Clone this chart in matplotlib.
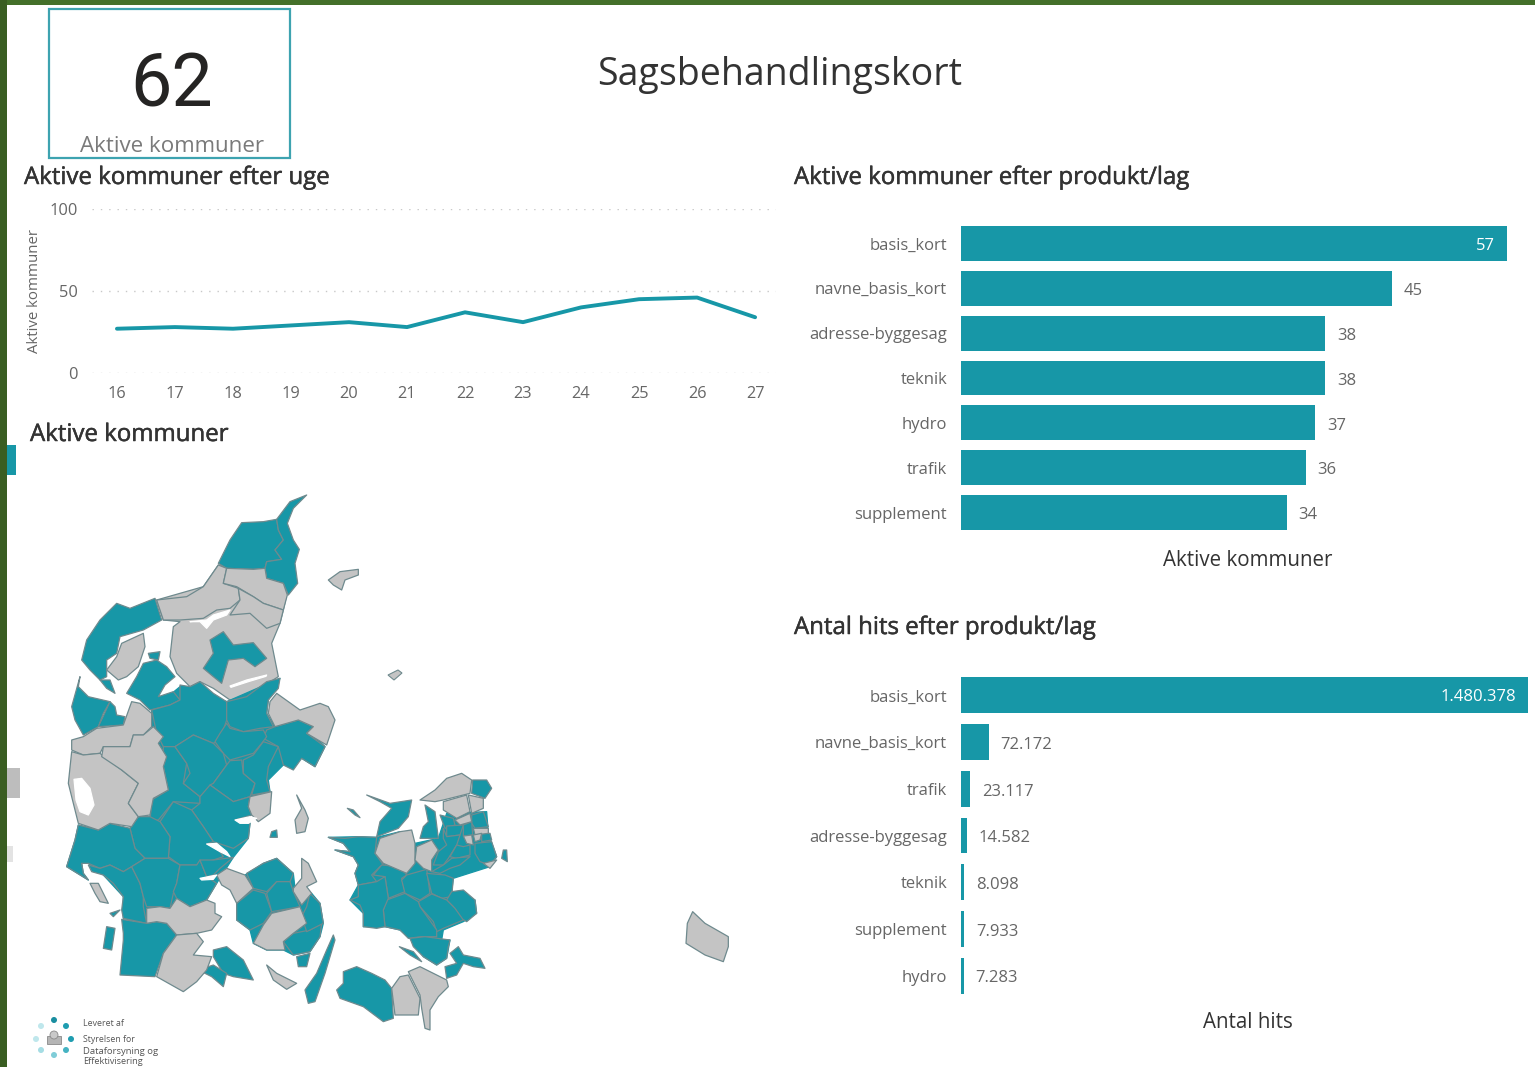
import matplotlib
matplotlib.use('Agg')
import matplotlib.pyplot as plt
import matplotlib.patheffects as pe
from matplotlib.patches import Polygon, Rectangle, Circle

# data
weeks = [16, 17, 18, 19, 20, 21, 22, 23, 24, 25, 26, 27]
active_per_week = [27, 28, 27, 29, 31, 28, 37, 31, 40, 45, 46, 34]

products_active = ['basis_kort', 'navne_basis_kort', 'adresse-byggesag', 'teknik', 'hydro', 'trafik', 'supplement']
active_values = [57, 45, 38, 38, 37, 36, 34]

products_hits = ['basis_kort', 'navne_basis_kort', 'trafik', 'adresse-byggesag', 'teknik', 'supplement', 'hydro']
hits_values = [1480378, 72172, 23117, 14582, 8098, 7933, 7283]

# map outlines, traced by eye. three groups, each in its own crop coordinates (3x)
base_north_gray = [(655,255),(860,345),(850,390),(840,430),(815,490),(835,590),(740,650),(690,660),(640,625),(600,605),(570,620),(530,580),(510,530),(520,440),(540,425),(490,420),(470,360),(610,320)]
base_jutland_teal = [(455,-150),(540,-220),(680,-175),(840,-245),(805,-180),(800,-140),(825,-100),(895,-120),(975,-40),(945,20),(905,-5),(850,15),(805,60),(810,95),(750,110),(750,190),(745,235),(700,292),(650,370),(620,420),(530,415),(510,445),(440,445),(440,490),(370,475),(370,410),(310,345),(265,310),(245,310),(250,340),(265,360),(200,320),(225,240),(235,195),(295,210),(390,205),(450,170),(455,120),(505,90),(490,20),(500,-10),(475,-50),(490,-70),(455,-100)]
base_funen_teal = [(735,345),(790,310),(830,295),(880,340),(885,385),(935,400),(960,430),(970,490),(960,530),(930,575),(880,585),(850,570),(800,570),(760,550),(750,510),(710,480),(710,430),(760,385)]
base_zealand_teal = [(85,262),(175,260),(230,262),(300,245),(345,280),(415,265),(440,190),(560,185),(565,250),(590,320),(570,350),(460,385),(455,425),(525,450),(530,490),(490,515),(430,540),(425,570),(450,570),(440,625),(410,645),(370,620),(330,565),(300,540),(255,530),(190,530),(190,490),(150,450),(175,405),(165,370),(175,345),(160,320),(105,300),(150,305),(130,280)]

water_north = [
    [(570,425),(620,420),(640,405),(690,390),(680,405),(640,420),(620,445),(600,425)],
    [(690,618),(740,600),(800,585),(798,589),(745,605),(693,622)],
]
water_south = [
    [(222,58),(245,55),(270,85),(282,135),(265,165),(240,155),(228,120)],
    [(705,180),(750,170),(770,175),(745,190),(720,190)],
    [(620,252),(650,250),(680,275),(690,290),(660,275)],
    [(600,355),(650,345),(640,358),(605,360)],
]

teal_north = [
    [(655,250),(690,180),(725,128),(790,125),(830,118),(835,150),(850,180),(825,210),(845,238),(800,245),(795,265),(760,268),(680,265)],
    [(830,118),(870,65),(920,45),(880,85),(862,130),(880,180),(898,208),(885,250),(893,310),(865,345),(850,310),(800,295),(795,265),(800,245),(845,238),(825,210),(850,180),(835,150)],
    [(630,480),(670,455),(700,495),(760,488),(800,535),(765,560),(730,535),(685,540),(665,610),(640,590),(610,565),(640,520)],
    [(350,370),(390,385),(465,355),(485,420),(430,450),(360,470),(350,520),(320,540),(320,590),(300,600),(270,570),(245,540),(260,480),(300,420)],
    [(240,590),(235,620),(265,650),(330,665),(310,700),(295,740),(250,765),(225,720),(215,680)],
    [(330,665),(345,680),(350,705),(375,710),(370,735),(295,740)],
    [(300,600),(330,600),(345,640),(320,625)],
    [(380,640),(410,590),(430,550),(470,540),(500,560),(525,590),(495,615),(475,650),(520,635),(540,660),(510,675),(450,690),(420,660)],
    [(445,520),(480,515),(475,540),(450,535)],
    [(540,615),(570,620),(600,605),(640,640),(680,665),(680,720),(660,780),(640,790),(580,765),(525,800),(490,800),(470,760),(455,690),(510,675),(540,660)],
    [(680,665),(740,650),(800,605),(840,595),(835,625),(805,660),(800,700),(820,740),(780,745),(730,755),(690,740),(680,720)],
    [(825,740),(895,720),(940,740),(920,760),(975,800),(945,860),(905,835),(880,870),(850,855),(835,800),(790,775),(800,750)],
    [(680,730),(690,745),(730,755),(790,750),(800,770),(785,790),(760,820),(690,840),(670,820),(645,785),(660,760)],
]
gray_north = [
    [(655,255),(680,265),(670,310),(715,325),(720,360),(690,385),(650,390),(610,415),(540,420),(490,420),(470,360),(560,350),(610,320)],
    [(680,265),(760,268),(795,265),(800,295),(850,310),(862,345),(850,390),(790,370),(760,350),(710,320),(670,310)],
    [(715,325),(760,350),(790,370),(850,390),(840,430),(800,445),(750,400),(690,405),(720,360)],
    [(365,490),(430,460),(435,500),(415,560),(380,590),(355,600),(320,570),(350,530)],
    [(830,640),(810,665),(805,700),(825,740),(895,720),(940,740),(920,760),(980,795),(1005,720),(985,680),(960,670),(900,690)],
    [(215,780),(250,770),(290,745),(370,735),(395,665),(420,670),(455,700),(455,740),(430,765),(400,765),(390,800),(310,800),(300,820),(250,825),(215,810)],
    [(985,300),(1020,275),(1075,268),(1075,285),(1035,300),(1025,330),(1000,315)],
]
teal_south = [
    [(490,-40),(525,-40),(560,10),(550,70),(600,110),(600,130),(520,125),(475,180),(450,185),(455,120),(505,90),(490,20)],
    [(525,-40),(580,-75),(640,-50),(670,-20),(680,15),(640,70),(600,110),(550,70),(570,40),(560,10)],
    [(680,15),(690,2),(725,0),(730,40),(765,70),(750,110),(700,125),(630,75),(640,70)],
    [(790,-55),(835,-40),(805,20),(800,60),(810,95),(755,105),(765,70),(730,40),(730,0),(760,-15)],
    [(630,75),(700,125),(750,110),(745,140),(755,165),(705,180),(750,190),(745,235),(700,265),(640,245),(610,200),(575,150),(600,130),(600,110)],
    [(520,125),(575,150),(610,200),(640,245),(620,252),(650,260),(670,290),(640,300),(590,315),(540,315),(505,290),(510,230),(480,185)],
    [(450,170),(480,185),(510,230),(505,295),(435,295),(405,265),(395,225),(390,205),(415,170)],
    [(235,195),(295,210),(330,190),(390,205),(405,265),(435,295),(395,320),(370,335),(330,315),(300,325),(265,310),(245,310),(250,340),(265,360),(200,320),(225,240)],
    [(265,315),(300,325),(330,315),(370,335),(395,320),(420,370),(430,410),(430,440),(440,490),(370,475),(365,450),(370,410),(340,370),(310,345),(275,335)],
    [(395,320),(435,295),(505,295),(540,315),(530,370),(520,400),(510,445),(480,440),(440,440),(430,410),(420,370)],
    [(540,315),(590,315),(600,300),(620,350),(650,370),(635,395),(620,420),(570,440),(530,415),(520,395),(530,370)],
    [(620,300),(640,300),(700,292),(660,325),(640,345),(620,350),(600,300)],
    [(365,478),(440,490),(470,485),(500,490),(530,525),(490,580),(465,650),(360,645),(370,540),(370,520)],
    [(640,570),(680,560),(730,600),(760,660),(700,650),(670,640),(640,590)],
    [(595,630),(640,615),(680,640),(670,680),(635,650)],
    [(320,500),(345,505),(335,570),(310,565)],
    [(330,460),(360,450),(340,470)],
    [(740,340),(790,310),(830,295),(880,340),(870,365),(830,365),(800,395),(760,385)],
    [(710,430),(760,390),(795,400),(815,455),(790,490),(750,510),(710,480)],
    [(800,400),(830,365),(870,365),(880,395),(900,440),(815,455)],
    [(850,545),(880,520),(930,510),(965,490),(960,530),(930,575),(880,585)],
    [(905,470),(920,440),(930,400),(960,430),(970,490),(920,515)],
    [(1000,525),(1005,540),(975,640),(945,725),(925,730),(915,690),(950,640),(980,570)],
    [(890,590),(930,580),(920,620),(895,620)],
    [(815,215),(830,210),(832,232),(810,232)],
]
gray_south = [
    [(215,-25),(250,-15),(300,-20),(365,30),(415,70),(385,130),(415,170),(395,200),(330,190),(295,210),(235,190),(225,150),(205,70)],
    [(310,-40),(390,-40),(400,-75),(430,-75),(460,-100),(490,-70),(475,-50),(500,-10),(490,20),(505,90),(460,115),(450,165),(415,170),(385,130),(415,70),(365,30),(305,-10)],
    [(750,110),(815,95),(810,160),(775,185),(755,165),(745,140)],
    [(440,445),(480,440),(510,445),(530,415),(570,440),(620,420),(645,430),(645,460),(665,470),(635,510),(590,520),(530,525),(500,490),(470,485),(440,490)],
    [(530,525),(590,520),(610,545),(580,585),(635,590),(620,630),(590,665),(550,695),(470,650),(490,580)],
    [(270,370),(295,370),(325,430),(300,425),(285,400)],
    [(650,345),(680,325),(735,345),(760,385),(710,430),(690,390),(665,375)],
    [(815,460),(900,440),(920,490),(880,520),(850,545),(855,570),(800,570),(760,550),(790,495)],
    [(880,385),(905,355),(905,295),(925,310),(950,365),(920,380),(935,400),(905,435),(880,395)],
    [(800,615),(830,640),(890,670),(860,688),(820,660)],
    [(890,105),(915,150),(925,175),(915,215),(890,220),(885,180),(905,145)],
]
teal_east = [
    [(85,262),(135,265),(175,260),(230,262),(225,310),(250,345),(240,350),(215,375),(230,395),(175,405),(165,370),(175,345),(160,320),(105,300),(150,305),(130,280)],
    [(200,135),(270,160),(335,150),(325,200),(295,235),(230,260),(240,215),(275,175),(240,155)],
    [(375,165),(405,185),(410,225),(415,265),(360,265),(370,230),(385,215)],
    [(245,345),(300,350),(320,375),(305,385),(315,425),(265,445),(255,380),(220,375)],
    [(320,375),(380,358),(390,430),(360,450),(315,430),(305,390)],
    [(380,370),(435,375),(460,385),(455,440),(425,445),(395,430)],
    [(455,425),(490,420),(525,450),(530,490),(500,515),(475,500),(460,470),(440,450)],
    [(395,432),(440,450),(465,475),(490,510),(430,535),(410,545),(400,515),(360,470),(355,455)],
    [(260,450),(315,430),(355,455),(360,470),(410,540),(410,560),(365,560),(325,565),(300,540),(255,530),(250,480)],
    [(175,405),(230,395),(255,380),(265,445),(250,480),(255,530),(230,535),(190,530),(190,490),(180,465),(150,450),(175,440)],
    [(330,565),(375,560),(450,570),(445,590),(440,625),(410,645),(370,620),(340,590)],
    [(450,610),(475,590),(490,615),(540,625),(555,655),(520,650),(490,640),(470,675),(440,685),(435,650),(470,640)],
    [(130,665),(170,650),(215,670),(255,690),(275,715),(280,805),(250,815),(190,770),(120,745),(110,720),(130,700)],
    [(518,90),(560,90),(575,115),(555,145),(515,130)],
    [(515,195),(550,185),(565,230),(525,235),(515,220)],
    [(420,195),(460,205),(465,225),(435,235)],
    [(440,228),(490,225),(480,255),(440,260)],
    [(490,225),(515,215),(518,255),(490,258)],
    [(430,235),(440,260),(480,255),(470,285),(445,325),(430,345),(400,345),(415,305),(440,285),(430,265)],
    [(545,250),(570,250),(575,270),(545,275)],
    [(470,285),(490,290),(510,285),(510,315),(470,325),(450,320)],
    [(525,280),(575,275),(590,320),(570,345),(540,335),(525,310)],
    [(430,345),(455,325),(510,320),(480,345),(450,355),(420,370),(395,365)],
    [(610,300),(620,300),(622,335),(605,325)],
    [(142,175),(160,180),(180,203),(165,195)],
    [(298,590),(340,605),(365,635),(330,615)],
]
gray_east = [
    [(240,265),(300,245),(335,240),(345,280),(345,340),(320,370),(250,340),(225,310)],
    [(350,290),(395,270),(415,300),(395,330),(395,365),(370,355),(345,330)],
    [(275,715),(300,680),(325,675),(360,745),(355,795),(285,795)],
    [(325,665),(360,650),(400,670),(440,690),(445,710),(415,740),(390,780),(390,840),(375,835),(365,775),(360,735)],
    [(1178,485),(1215,520),(1285,560),(1285,590),(1270,635),(1215,615),(1158,580),(1162,520)],
    [(360,150),(405,120),(440,85),(485,70),(515,90),(510,130),(430,150),(405,155)],
    [(430,155),(500,135),(510,185),(470,205),(430,180)],
    [(505,135),(550,145),(550,175),(515,190)],
    [(465,210),(510,190),(515,215),(480,225)],
    [(520,235),(565,235),(565,250),(525,255)],
    [(490,258),(515,255),(520,285),(500,280)],
    [(520,255),(545,250),(540,270),(525,275)],
    [(550,340),(590,330),(570,355)],
]

logo_dots = [(54,1020,'#1a8ea0'),(66,1026,'#1f9db0'),(71,1039,'#1f9db0'),(66,1050,'#45b3c2'),
             (54,1055,'#80cdd8'),(41,1050,'#a5dde4'),(36,1039,'#bfe7ec'),(41,1026,'#bfe7ec')]

TEAL = '#1797a7'
GRAY = '#c4c4c4'
EDGE = '#6f8a8e'
TITLE = '#333333'
LABEL = '#666666'

plt.rcParams['font.family'] = ['Open Sans', 'DejaVu Sans']

W, H = 1535, 1067
fig = plt.figure(figsize=(W / 100, H / 100), dpi=100, facecolor='white')

def px_axes(left, top, right, bottom):
    return fig.add_axes([left / W, 1 - bottom / H, (right - left) / W, (bottom - top) / H])

# overlay in pixel coordinates for frame, headings and the map
bg = fig.add_axes([0, 0, 1, 1])
bg.set_xlim(0, W)
bg.set_ylim(H, 0)
bg.axis('off')

# green window edge
bg.add_patch(Rectangle((0, 0), W, 5, color='#44702a', lw=0))
bg.add_patch(Rectangle((0, 0), 7, H, color='#3a5e22', lw=0))
# collapsed side controls
bg.add_patch(Rectangle((7, 445), 9, 30, color=TEAL, lw=0))
bg.add_patch(Rectangle((7, 768), 13, 30, color='#bdbdbd', lw=0))
bg.add_patch(Rectangle((7, 846), 6, 16, color='#e3e3e3', lw=0))

# KPI card
bg.add_patch(Rectangle((49, 9), 241, 149, fill=False, ec='#3da3b0', lw=1.6))
bg.text(172, 86, '62', fontsize=53, color='#252423', ha='center', va='center', family='Roboto')
bg.text(171.5, 146, 'Aktive kommuner', fontsize=16.1, color='#7a7a7a', ha='center', va='center')

bg.text(780, 75, 'Sagsbehandlingskort', fontsize=27, color=TITLE, ha='center', va='center')

# headings are a bit heavier than regular, a thin stroke gets them there
HEAD = dict(fontsize=17.3, color=TITLE, ha='left', va='center',
            path_effects=[pe.withStroke(linewidth=0.35, foreground=TITLE)])
bg.text(24, 178, 'Aktive kommuner efter uge', **HEAD)
bg.text(30, 435, 'Aktive kommuner', **HEAD)
bg.text(794, 178, 'Aktive kommuner efter produkt/lag', **HEAD)
bg.text(794, 628, 'Antal hits efter produkt/lag', **HEAD)

# map
def draw_shapes(shapes, ox, oy, color, edge=EDGE):
    for shape in shapes:
        pts = [(ox + x / 3, oy + y / 3) for x, y in shape]
        bg.add_patch(Polygon(pts, closed=True, fc=color, ec=edge if edge else color, lw=0.9, joinstyle='round'))

draw_shapes([base_north_gray], 0, 480, GRAY)
draw_shapes([base_jutland_teal, base_funen_teal], 0, 760, TEAL, edge=None)
draw_shapes([base_zealand_teal], 300, 750, TEAL, edge=None)
draw_shapes(teal_north, 0, 480, TEAL)
draw_shapes(gray_north, 0, 480, GRAY)
draw_shapes(teal_south, 0, 760, TEAL)
draw_shapes(gray_south, 0, 760, GRAY)
draw_shapes(teal_east, 300, 750, TEAL)
draw_shapes(gray_east, 300, 750, GRAY)
draw_shapes(water_north, 0, 480, 'white', edge=None)
draw_shapes(water_south, 0, 760, 'white', edge=None)
bg.add_patch(Polygon([(388, 675), (398, 670), (402, 673), (394, 680)], closed=True, fc=GRAY, ec=EDGE, lw=0.8))

# logo
for x, y, c in logo_dots:
    bg.add_patch(Circle((x, y), 3, color=c, lw=0))
bg.add_patch(Rectangle((47, 1036), 14, 8, fc='#b5b5b5', ec='#8a8a8a', lw=0.6))
bg.add_patch(Circle((54, 1035), 4, fc='#c9c9c9', ec='#8a8a8a', lw=0.6))
bg.text(83, 1023, 'Leveret af', fontsize=6.3, color='#555555', va='center')
bg.text(83, 1039, 'Styrelsen for', fontsize=6.3, color='#555555', va='center')
bg.text(83, 1051, 'Dataforsyning og', fontsize=6.8, color='#555555', va='center')
bg.text(83, 1062, 'Effektivisering', fontsize=6.6, color='#555555', va='center')

# line chart
ax = px_axes(92, 209, 776, 373)
ax.patch.set_alpha(0)
ax.plot(weeks, active_per_week, color=TEAL, lw=2.8, solid_capstyle='round')
ax.set_xlim(15.57, 27.36)
ax.set_ylim(0, 100)
ax.set_xticks(weeks)
ax.set_yticks([0, 50, 100])
ax.grid(axis='y', color='#c8c8c8', linestyle=(0, (1, 5)), lw=1)
ax.set_axisbelow(True)
for side in ax.spines.values():
    side.set_visible(False)
ax.tick_params(length=0, labelsize=11.8, labelcolor=LABEL)
ax.tick_params(axis='x', pad=9)
ax.tick_params(axis='y', pad=10)
ax.set_ylabel('Aktive kommuner', fontsize=10.8, color=LABEL)
ax.yaxis.set_label_coords((42 - 92) / 684, 0.5)

# bar charts
def hbar(box, cats, vals, xmax, labels, title, title_y, height):
    a = px_axes(*box)
    a.patch.set_alpha(0)
    a.barh(range(len(cats)), vals, height=height, color=TEAL)
    a.set_xlim(0, xmax)
    a.set_ylim(len(cats) - 0.5, -0.5)
    a.set_yticks(range(len(cats)))
    a.set_yticklabels(cats)
    a.set_xticks([])
    for side in a.spines.values():
        side.set_visible(False)
    a.tick_params(length=0, labelsize=12, labelcolor=LABEL, pad=10)
    for i, v in enumerate(vals):
        if i == 0:
            a.annotate(labels[i], (v, i), xytext=(-8.5, -1.5), textcoords='offset points', color='white',
                       ha='right', va='center', fontsize=12)
        else:
            a.annotate(labels[i], (v, i), xytext=(8.5, -2), textcoords='offset points', color=LABEL,
                       ha='left', va='center', fontsize=12)
    bg.text(1248, title_y, title, fontsize=14.8, color=TITLE, ha='center', va='center')

hbar((961, 221, 1507, 535), products_active, active_values, 57,
     [str(v) for v in active_values], 'Aktive kommuner', 560, 0.78)
hbar((961, 672, 1528, 999), products_hits, hits_values, 1480378,
     [f'{v:,}'.replace(',', '.') for v in hits_values], 'Antal hits', 1023, 0.77)

plt.savefig('out.png', dpi=100)
